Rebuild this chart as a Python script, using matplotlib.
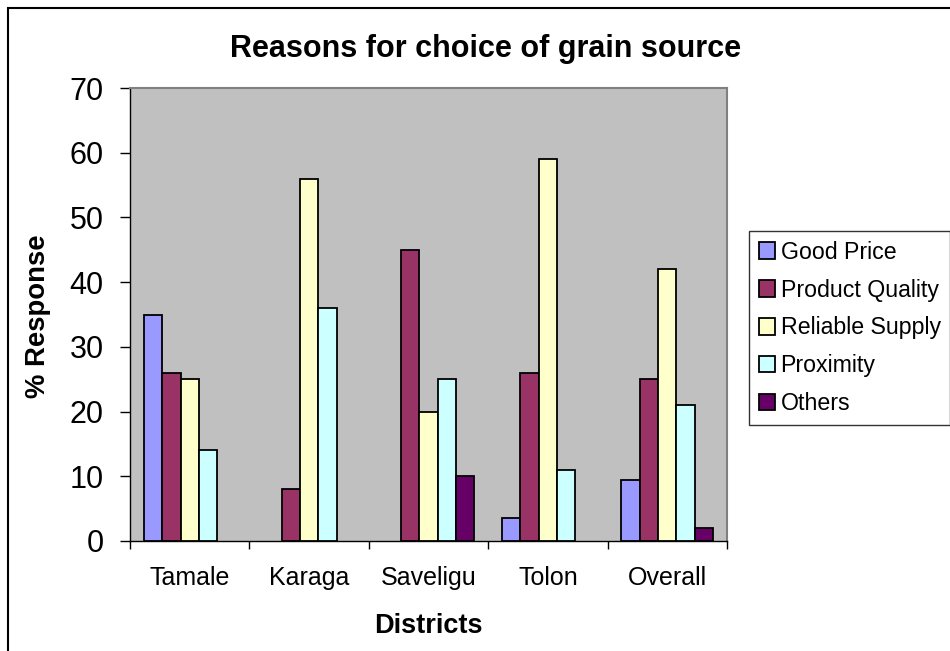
import matplotlib
matplotlib.use("Agg")
import matplotlib.pyplot as plt
import numpy as np
from matplotlib.patches import Rectangle

plt.rcParams['font.family'] = ['Liberation Sans', 'DejaVu Sans']

districts = ['Tamale', 'Karaga', 'Saveligu', 'Tolon', 'Overall']
reasons = ['Good Price', 'Product Quality', 'Reliable Supply', 'Proximity', 'Others']
good_price = [35, 0, 0, 3.5, 9.5]
product_quality = [26, 8, 45, 26, 25]
reliable_supply = [25, 56, 20, 59, 42]
proximity = [14, 36, 25, 11, 21]
others = [0, 0, 10, 0, 2]
colours = ['#9999FF', '#993366', '#FFFFCC', '#CCFFFF', '#660066']

series = [good_price, product_quality, reliable_supply, proximity, others]

fig = plt.figure(figsize=(9.5, 6.51), dpi=100)
ax = fig.add_axes([130/950, 1-541/651, (727-130)/950, (541-88)/651])
ax.set_facecolor('#C0C0C0')

x = np.arange(len(districts))
w = 0.154
for i, (vals, name, col) in enumerate(zip(series, reasons, colours)):
    bars = ax.bar(x + (i - 2) * w, vals, w, color=col, edgecolor='black',
                  linewidth=1.3, zorder=3)
    for b in bars:
        if b.get_height() == 0:
            b.set_visible(False)

ax.set_xlim(-0.5, 4.5)
ax.set_ylim(0, 70)
ax.set_yticks(np.arange(0, 71, 10))
ax.tick_params(axis='y', labelsize=22, length=7, width=1, pad=12, direction='out')

# category labels centred, tick marks at group boundaries
ax.set_xticks(x)
ax.set_xticklabels(districts, fontsize=18)
ax.tick_params(axis='x', which='major', length=0, pad=18)
ax.set_xticks(np.arange(-0.5, 5, 1), minor=True)
ax.tick_params(axis='x', which='minor', length=6, width=1, direction='out')

for s in ['top', 'right']:
    ax.spines[s].set_color('#808080')
    ax.spines[s].set_linewidth(1.5)
for s in ['left', 'bottom']:
    ax.spines[s].set_color('black')
    ax.spines[s].set_linewidth(1)

fig.text(486/950, 1-49/651, 'Reasons for choice of grain source', ha='center',
         va='center', fontsize=22, fontweight='bold')
fig.text(38/950, 1-316/651, '% Response', ha='center', va='center', rotation=90,
         fontsize=19.8, fontweight='bold')
fig.text(428/950, 1-626/651, 'Districts', ha='center', va='center',
         fontsize=19.5, fontweight='bold')

handles = [Rectangle((0, 0), 1, 1, facecolor=c, edgecolor='black', linewidth=1.3)
           for c in colours]
leg = ax.legend(handles, reasons, loc='upper left', bbox_to_anchor=(749/950, 1-231/651),
                bbox_transform=fig.transFigure, fontsize=16.7, frameon=True,
                fancybox=False, edgecolor='black', handlelength=0.72,
                handleheight=0.72, handletextpad=0.22, labelspacing=0.64,
                borderpad=0.42, borderaxespad=0)
leg.get_frame().set_linewidth(1)

# outer chart border, running past the right and bottom edges
fig.patches.append(Rectangle((8/950, -0.1), 1.2, 1.1 - 8/651, transform=fig.transFigure,
                             fill=False, edgecolor='black', linewidth=1.5))

fig.savefig('out.png', dpi=100)
